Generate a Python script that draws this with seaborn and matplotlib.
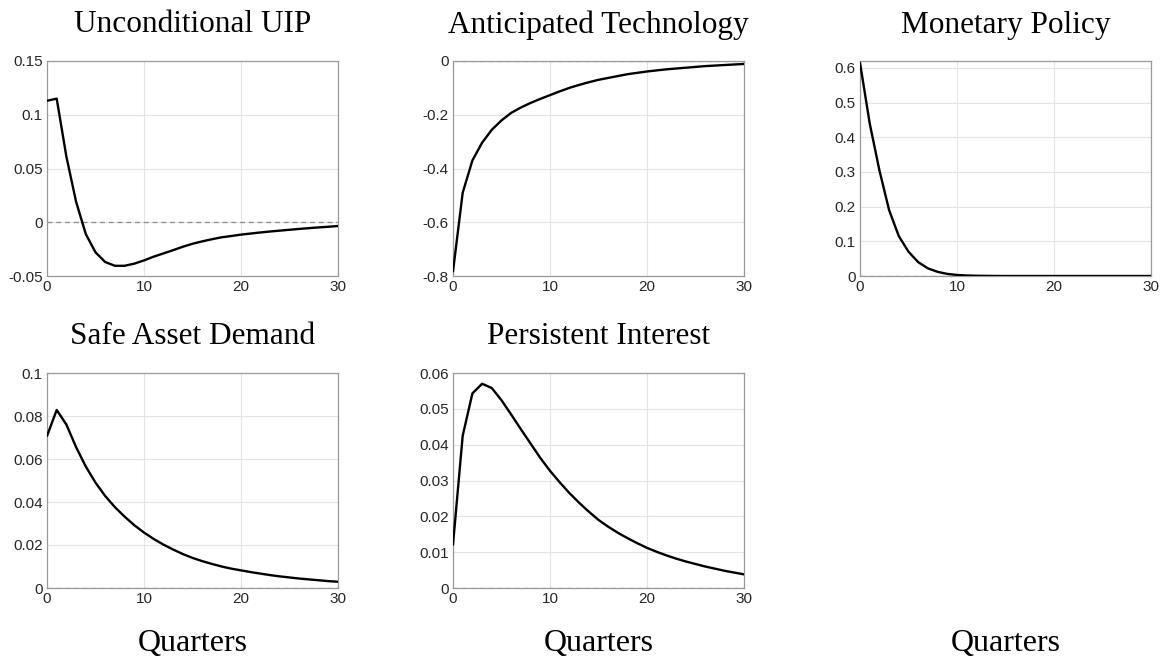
import matplotlib
matplotlib.use("Agg")
import matplotlib.pyplot as plt
import numpy as np
import pandas as pd
import seaborn as sns

# Impulse responses, quarters 0..30
quarters = list(range(31))

uip = [0.113, 0.115, 0.061, 0.019, -0.011, -0.028, -0.037, -0.0405, -0.0405, -0.0385,
       -0.0355, -0.032, -0.029, -0.026, -0.0228, -0.020, -0.0178, -0.0158, -0.014, -0.0128,
       -0.0115, -0.0105, -0.0095, -0.0086, -0.0078, -0.007, -0.0062, -0.0055, -0.0048,
       -0.0042, -0.0035]

anticipated_tech = [-0.783, -0.49, -0.37, -0.304, -0.256, -0.221, -0.193, -0.173, -0.156,
                    -0.141, -0.127, -0.113, -0.100, -0.089, -0.079, -0.070, -0.063, -0.056,
                    -0.049, -0.044, -0.039, -0.035, -0.031, -0.028, -0.025, -0.022, -0.019,
                    -0.017, -0.015, -0.013, -0.011]

monetary_policy = [0.615, 0.44, 0.305, 0.19, 0.115, 0.07, 0.04, 0.022, 0.012, 0.006,
                   0.003, 0.0015, 0.0007, 0.0003, 0.0001, 0.0, 0.0, 0.0, 0.0, 0.0,
                   0.0, 0.0, 0.0, 0.0, 0.0, 0.0, 0.0, 0.0, 0.0, 0.0, 0.0]

safe_asset = [0.0707, 0.0828, 0.0760, 0.0655, 0.0565, 0.0490, 0.0428, 0.0376, 0.0332,
              0.0292, 0.0258, 0.0228, 0.0202, 0.0179, 0.0158, 0.0140, 0.0125, 0.0112,
              0.0100, 0.0090, 0.0082, 0.0074, 0.0067, 0.0060, 0.0054, 0.0049, 0.0044,
              0.0040, 0.0036, 0.0032, 0.0029]

persistent_interest = [0.0121, 0.0425, 0.0543, 0.0570, 0.0558, 0.0524, 0.0484, 0.0443,
                       0.0403, 0.0363, 0.0327, 0.0295, 0.0265, 0.0238, 0.0213, 0.0190,
                       0.0171, 0.0154, 0.0139, 0.0125, 0.0112, 0.0101, 0.0091, 0.0082,
                       0.0074, 0.0067, 0.0060, 0.0054, 0.0048, 0.0043, 0.0038]

titles = ["Unconditional UIP", "Anticipated Technology", "Monetary Policy",
          "Safe Asset Demand", "Persistent Interest"]

x_ticks = [0, 10, 20, 30]
x_tick_labels = ["0", "10", "20", "30"]

y_limits = [(-0.05, 0.15), (-0.8, 0.0), (0.0, 0.62), (0.0, 0.1), (0.0, 0.06)]
y_ticks = [
    [-0.05, 0.0, 0.05, 0.1, 0.15],
    [-0.8, -0.6, -0.4, -0.2, 0.0],
    [0.0, 0.1, 0.2, 0.3, 0.4, 0.5, 0.6],
    [0.0, 0.02, 0.04, 0.06, 0.08, 0.1],
    [0.0, 0.01, 0.02, 0.03, 0.04, 0.05, 0.06],
]
y_tick_labels = [
    ["-0.05", "0", "0.05", "0.1", "0.15"],
    ["-0.8", "-0.6", "-0.4", "-0.2", "0"],
    ["0", "0.1", "0.2", "0.3", "0.4", "0.5", "0.6"],
    ["0", "0.02", "0.04", "0.06", "0.08", "0.1"],
    ["0", "0.01", "0.02", "0.03", "0.04", "0.05", "0.06"],
]

x_label = "Quarters"

series = [uip, anticipated_tech, monetary_policy, safe_asset, persistent_interest]

sns.set_style("white")
plt.rcParams["font.family"] = ["Liberation Sans", "DejaVu Sans"]

fig = plt.figure(figsize=(11.66, 6.64), dpi=100)

# axes rectangles in figure fractions: (left, bottom, width, height)
col_left = [47 / 1166, 453 / 1166, 860 / 1166]
ax_w = 291 / 1166
row_bottom = [1 - 276 / 664, 1 - 588 / 664]
ax_h = 215 / 664

serif = ["Liberation Serif", "DejaVu Serif"]

for i, (title, vals) in enumerate(zip(titles, series)):
    r, c = divmod(i, 3)
    ax = fig.add_axes([col_left[c], row_bottom[r], ax_w, ax_h])
    df = pd.DataFrame({"quarter": quarters, "response": vals})
    ax.axhline(0, color="#8c8c8c", lw=0.9, ls=(0, (4, 3)), zorder=1)
    sns.lineplot(data=df, x="quarter", y="response", ax=ax, color="black", lw=1.7,
                 zorder=3)
    ax.set_xlim(0, 30)
    ax.set_ylim(*y_limits[i])
    ax.set_xticks(x_ticks)
    ax.set_xticklabels(x_tick_labels)
    ax.set_yticks(y_ticks[i])
    ax.set_yticklabels(y_tick_labels[i])
    ax.set_xlabel("")
    ax.set_ylabel("")
    ax.grid(True, color="#e4e4e4", lw=0.8)
    ax.set_axisbelow(True)
    for sp in ax.spines.values():
        sp.set_visible(True)
        sp.set_color("#999999")
        sp.set_linewidth(0.9)
    ax.tick_params(axis="both", length=0, labelsize=11, colors="#262626", pad=3)
    # panel title centred above the axes
    cx = col_left[c] + ax_w / 2
    ty = row_bottom[r] + ax_h + 36 / 664
    fig.text(cx, ty, title, ha="center", va="center", fontsize=22.5,
             family=serif, color="black")

# x-axis caption under every column
for c in range(3):
    cx = col_left[c] + ax_w / 2
    fig.text(cx, 1 - 644 / 664, x_label, ha="center", va="center", fontsize=23,
             family=serif, color="black")

fig.savefig("out.png", dpi=100)
